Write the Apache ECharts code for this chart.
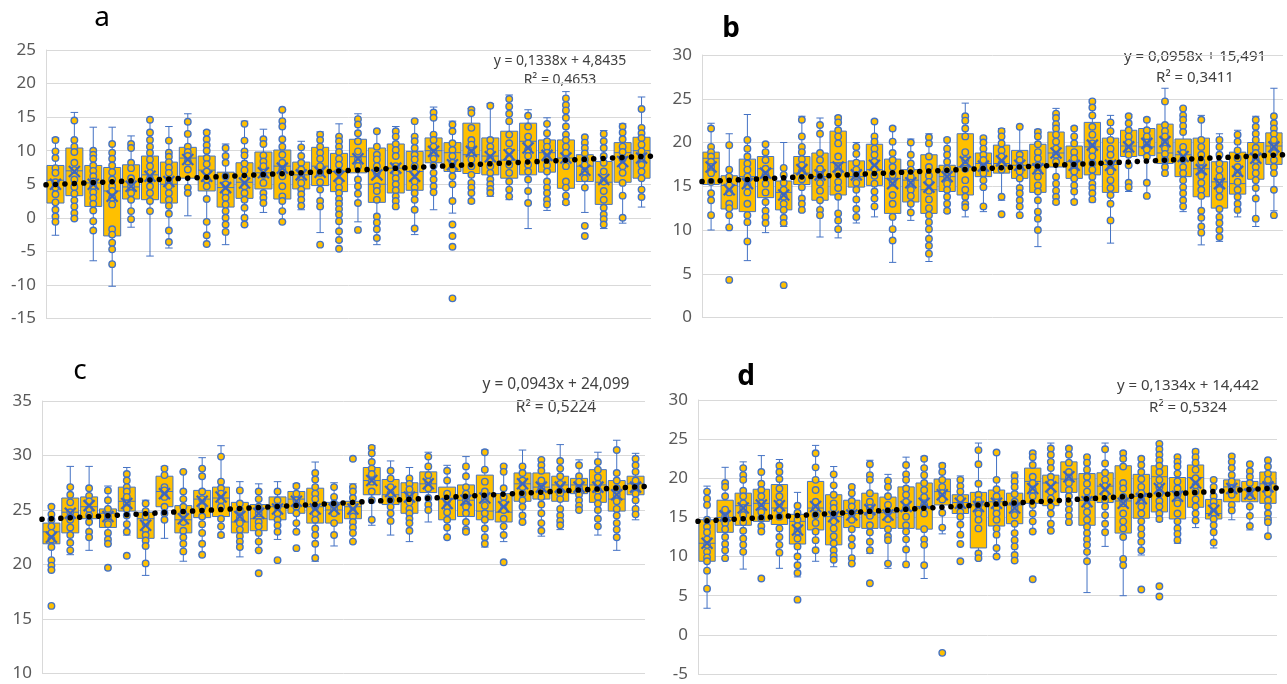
<!DOCTYPE html>
<html><head><meta charset="utf-8">
<script src="https://cdn.jsdelivr.net/npm/echarts@6/dist/echarts.min.js"></script>
<style>html,body{margin:0;padding:0;background:#fff}#c{width:1287px;height:684px}</style>
</head><body><div id="c"></div>
<script>
const categories = [1,2,3,4,5,6,7,8,9,10,11,12,13,14,15,16,17,18,19,20,21,22,23,24,25,26,27,28,29,30,31,32];

// ---- panel a ----
const yTicksA = [-15,-10,-5,0,5,10,15,20,25];
const boxesA = [[-2.6,2.2,5.6,7.8,11.9],[-0.2,3.3,7.0,10.4,15.7],[-6.4,1.7,5.2,7.8,13.5],[-10.2,-2.7,4.0,7.5,13.5],[-1.4,2.8,4.6,7.9,12.2],[-5.7,2.7,6.4,9.2,14.7],[-4.5,2.2,5.0,8.3,13.6],[0.3,5.9,8.9,10.5,15.5],[-4.0,4.0,7.1,9.2,13.0],[-4.0,1.6,4.5,6.8,11.0],[-1.1,2.9,5.3,8.2,14.4],[0.8,4.3,6.7,9.8,13.2],[-0.6,2.8,7.7,10.1,16.1],[1.2,4.3,6.4,8.3,11.4],[-2.2,4.8,7.7,10.5,12.8],[-3.5,3.9,6.9,9.6,14.0],[-0.6,6.7,9.1,11.7,15.5],[-4.0,2.3,5.0,10.4,13.0],[1.5,3.7,7.4,11.0,13.6],[-2.5,4.1,6.9,9.9,14.6],[1.2,8.2,10.0,11.9,16.5],[0.7,6.9,9.7,11.2,14.4],[2.2,6.6,9.4,14.1,16.3],[3.2,6.4,9.2,11.9,17.0],[2.7,5.9,8.6,12.9,18.3],[-1.6,6.4,11.4,14.1,16.1],[1.1,6.8,9.7,11.6,14.9],[2.0,4.4,8.9,11.6,18.8],[0.8,5.4,7.7,9.4,12.1],[-1.6,2.0,5.3,8.4,13.0],[-0.8,5.3,9.7,11.2,14.0],[1.6,5.9,10.0,12.0,18.0]];
const meansA = [5.0,6.9,5.0,3.2,4.7,6.2,5.4,8.7,6.2,4.5,5.2,6.7,7.4,6.4,6.8,6.2,8.8,6.4,7.4,6.2,9.9,7.9,9.9,9.1,9.4,10.4,9.3,8.9,7.1,5.7,8.4,8.9];
const pointsA = [
[11.6,9.9,8.9,7.4,6.7,5.3,4.5,3.5,2.3,1.2,0.2,-0.6],
[14.5,11.6,10.6,9.8,8.2,7.1,5.7,4.6,3.6,2.6,1.7,0.7,-0.1],
[10.0,9.4,8.8,7.8,7.0,6.2,5.4,4.7,3.8,3.0,2.1,1.1,-0.5,-1.9],
[11.0,9.7,8.8,7.8,6.8,5.7,4.7,4.0,3.0,2.0,-1.7,-2.5,-3.7,-4.7,-6.9],
[11.0,10.4,8.2,7.4,5.9,4.7,3.7,2.7,1.0,-0.2],
[14.6,12.7,11.6,10.6,9.7,8.7,7.7,6.7,5.8,4.7,3.7,2.5,1.0],
[11.5,9.7,9.1,8.3,7.5,6.7,5.4,4.7,3.7,2.7,1.8,0.6,-1.9,-3.6],
[14.3,12.5,10.6,9.8,9.2,8.4,7.2,4.5,3.7],
[12.7,11.7,10.8,10.0,8.9,8.0,6.9,5.7,4.7,2.8,-0.6,-2.6,-3.9],
[10.4,9.2,8.2,6.2,5.0,3.8,3.0,2.0,1.0,0.0,-1.0,-2.1],
[14.0,11.5,9.9,9.3,8.1,7.1,5.9,4.7,3.7,2.7,1.5,0.0,-1.0],
[11.7,11.0,9.3,8.4,7.7,6.4,5.2,3.7,3.0,2.2],
[16.1,14.4,13.6,11.7,10.6,9.4,8.2,7.2,6.2,4.7,3.2,2.5,1.0,-0.6],
[10.5,9.2,8.2,7.2,6.2,5.2,4.2,3.5,2.7,1.8],
[12.4,11.6,10.6,9.7,8.8,7.7,6.7,5.3,4.2,2.5,1.7,-4.0],
[12.1,11.4,10.6,9.8,8.8,7.9,6.9,5.4,4.5,3.7,2.8,2.1,1.3,0.5,-0.5,-2.0,-3.3,-4.6],
[14.7,13.9,12.6,11.4,9.9,8.7,7.7,5.7,4.7,3.6,2.2,-1.8],
[12.9,10.6,9.4,8.7,7.7,6.7,4.7,4.0,2.7,0.2,-0.7,-1.7,-3.0],
[12.9,12.1,11.0,10.1,9.2,7.7,6.7,5.9,5.0,4.1,3.2,2.5,1.7],
[14.4,12.1,11.4,10.4,9.4,8.7,7.7,6.7,5.4,4.5,3.7,2.7,1.2,-1.6],
[15.7,14.9,12.4,11.6,10.6,9.7,8.8,7.8,6.7,5.7,4.7,3.8],
[13.9,12.9,11.1,10.1,9.2,8.2,7.2,6.2,5.0,2.5,-1.0,-2.7,-4.3,-12.0],
[16.1,15.6,13.4,11.6,10.9,9.7,8.7,7.7,6.4,5.2,4.5,3.7,2.5],
[16.7,11.6,10.6,9.8,8.8,7.7,6.7,5.7,5.0,4.3,3.7],
[17.7,16.6,15.5,14.4,12.4,11.1,9.9,8.9,7.9,6.7,5.4,4.2,3.2],
[15.2,13.6,12.1,11.1,10.1,9.2,7.9,6.9,5.7,4.0,2.2],
[14.0,12.6,11.4,10.6,9.7,8.8,7.8,6.9,5.4,4.5,3.7,2.7,2.0],
[17.8,16.8,16.0,14.9,13.6,12.4,11.6,10.6,9.7,8.8,7.7,5.4,4.5,3.3,2.3],
[12.0,11.2,10.4,9.6,8.7,7.9,6.9,5.9,4.5,-1.2,-2.7],
[12.5,11.4,10.4,9.2,8.2,6.9,5.4,4.0,2.7,1.5,0.5,-0.2,-1.0],
[13.6,12.7,11.7,10.6,9.8,8.8,7.7,6.7,5.2,3.3,0.0],
[16.2,13.4,12.6,11.9,10.9,9.9,8.9,7.9,6.9,5.9,4.2,3.1]];
const trendA = [[0.5,4.91],[32.5,9.19]];

// ---- panel b ----
const yTicksB = [0,5,10,15,20,25,30];
const boxesB = [[10.0,15.2,18.2,18.9,22.2],[10.3,12.4,15.1,16.2,21.0],[6.5,12.1,16.1,18.1,23.2],[9.7,13.7,17.0,18.4,20.0],[10.4,12.3,14.3,15.6,20.0],[12.1,15.2,16.5,18.4,23.0],[9.2,13.4,16.1,18.8,22.8],[9.1,14.0,17.7,21.3,23.0],[10.8,14.9,16.1,17.9,20.0],[11.5,15.1,16.9,19.8,22.6],[6.3,11.9,15.9,18.1,21.8],[11.1,13.2,15.7,16.9,20.4],[6.4,11.9,14.6,18.6,21.0],[12.0,14.4,16.1,17.4,20.5],[11.5,14.0,17.2,21.0,24.5],[12.1,16.1,17.6,18.8,20.7],[13.4,16.5,17.6,19.7,21.6],[11.6,15.9,17.4,19.1,21.9],[8.1,14.3,17.4,19.8,21.5],[13.0,17.2,18.8,21.2,23.9],[13.4,15.9,17.8,19.6,21.8],[13.2,16.3,19.5,22.3,24.9],[8.5,14.3,17.5,20.5,23.1],[14.4,18.4,19.6,21.4,23.2],[13.8,18.5,19.5,21.6,22.8],[16.3,17.6,18.8,22.1,26.2],[12.1,16.1,18.6,20.4,24.0],[8.3,13.8,17.0,20.5,23.1],[8.7,12.5,15.5,17.8,21.0],[11.5,14.1,15.3,18.9,21.4],[10.4,15.8,18.6,20.0,23.0],[12.2,17.5,19.6,21.1,26.2]];
const meansB = [17.2,14.6,15.3,16.5,14.0,16.9,16.3,17.2,16.3,17.4,15.3,15.4,14.9,16.1,17.8,17.3,17.9,17.4,17.0,18.8,17.4,19.7,17.4,19.5,19.9,20.1,18.4,16.9,15.3,16.7,18.2,19.5];
const pointsB = [
[21.6,19.5,18.9,18.4,17.8,17.2,16.5,15.5,14.2,13.4,11.7],
[19.7,16.9,16.1,15.1,14.3,13.0,12.5,11.7,10.3,4.3],
[20.3,19.3,18.4,17.6,16.9,16.1,15.1,14.3,13.0,11.7,10.9,8.7],
[19.8,18.9,18.0,17.0,16.3,15.3,14.3,13.2,12.2,11.5,10.8],
[17.1,16.3,15.4,14.6,13.8,13.0,12.3,11.4,10.8,3.7],
[22.6,20.7,19.5,18.9,18.1,17.4,16.7,15.8,14.9,13.6,13.0,12.3],
[22.0,21.0,18.8,18.0,17.0,16.3,15.4,14.5,13.4,12.3,11.7],
[22.8,22.3,21.4,20.7,19.9,18.4,17.2,16.5,15.5,14.8,13.8,11.9,11.1,10.1],
[19.5,18.7,17.7,16.9,16.3,15.4,14.6,13.5,12.4,11.5],
[22.4,20.7,20.1,19.3,18.6,17.8,17.0,16.2,15.3,14.4,13.6,12.7],
[21.6,20.1,18.8,18.0,17.2,16.3,15.4,14.0,13.0,11.5,10.1,8.8],
[20.0,18.6,17.6,16.9,16.1,15.4,14.6,13.9,13.0,12.0],
[20.6,19.9,18.4,17.2,16.2,15.5,14.5,13.5,12.5,11.7,10.9,10.1,9.0,8.2,7.3],
[20.3,19.3,18.6,17.8,17.0,16.1,15.3,14.6,13.8,13.0,12.2],
[23.0,22.5,21.6,20.7,18.9,18.0,17.0,15.7,14.6,13.8,13.0,12.6],
[20.5,20.0,19.3,18.6,18.0,17.2,16.5,15.7,14.9,12.7],
[21.3,20.7,19.9,19.1,18.4,17.6,16.9,13.8,11.8],
[21.8,18.6,18.0,17.3,16.7,15.9,14.8,14.2,13.4,12.7,11.7],
[21.2,20.7,19.8,18.9,18.2,17.4,16.7,16.1,15.1,14.4,13.4,12.1,11.3,10.0],
[23.3,22.8,22.1,21.6,20.9,20.1,19.3,18.6,17.8,16.1,15.3,14.5,13.8,13.2],
[21.6,20.7,19.9,18.9,18.2,17.4,16.7,15.9,15.1,14.4,13.2],
[24.7,24.0,23.1,21.8,20.9,19.9,19.1,18.4,17.6,16.9,16.1,15.3,14.8,14.2,13.5],
[22.3,21.3,20.3,19.3,18.6,17.6,16.7,15.7,14.8,14.0,13.0,11.1],
[23.0,22.2,21.4,20.7,20.0,19.3,18.6,17.4,15.4,14.9],
[22.6,21.4,20.7,20.0,19.2,18.4,15.4,13.9],
[24.7,22.0,21.3,20.7,20.0,19.3,18.7,18.0,17.2,16.5],
[23.9,23.1,22.6,21.9,21.2,19.5,18.8,18.1,17.2,16.5,15.7,14.9,14.2,13.4,12.7],
[22.6,20.3,19.5,18.6,17.8,17.0,16.2,15.4,14.6,13.9,12.2,11.4,10.4,9.7],
[20.3,19.5,18.6,17.6,16.9,16.1,15.4,14.6,13.8,12.4,11.5,10.8,10.0,9.2],
[20.9,20.1,19.1,18.2,17.2,16.5,15.5,14.6,13.8,13.0,12.3],
[22.6,21.8,21.0,20.3,19.4,18.8,18.0,17.2,16.5,15.7,14.8,13.6,11.3],
[23.0,22.2,21.6,21.0,20.3,19.5,18.8,18.0,17.2,16.5,14.6,11.7]];
const trendB = [[0.5,15.54],[32.5,18.60]];

// ---- panel c ----
const yTicksC = [10,15,20,25,30,35];
const boxesC = [[19.5,21.9,23.0,23.8,25.4],[20.9,22.9,24.8,26.1,29.0],[21.3,24.2,25.3,26.2,29.0],[21.9,23.4,24.7,25.1,27.2],[22.7,24.9,25.8,27.1,28.9],[19.0,22.4,24.2,24.8,25.9],[22.4,25.3,26.7,28.1,29.0],[20.3,22.9,24.1,25.4,28.5],[20.9,24.3,26.0,26.8,29.8],[22.5,24.4,26.1,27.1,30.9],[20.7,22.9,23.9,25.7,27.6],[21.3,23.1,24.2,25.5,27.4],[22.3,24.1,25.3,26.2,27.6],[23.0,24.7,26.0,26.7,27.4],[20.3,23.8,25.3,27.0,29.4],[21.7,23.8,25.0,25.7,27.5],[22.1,24.2,25.3,25.8,27.4],[23.6,26.4,27.7,28.9,30.9],[22.7,25.5,26.4,27.8,29.5],[22.1,24.7,26.6,27.5,28.9],[23.9,26.6,27.4,28.5,30.3],[22.5,24.1,26.0,27.1,29.1],[22.9,24.4,25.9,27.3,29.9],[21.6,24.1,24.9,28.2,30.5],[22.1,23.9,24.8,26.5,29.1],[23.8,25.8,27.4,28.4,30.5],[22.6,26.0,27.1,28.4,29.7],[23.2,25.8,27.3,28.1,31.0],[25.0,26.5,27.3,27.9,29.6],[22.7,25.7,27.3,28.7,30.3],[21.3,24.9,26.0,27.7,31.4],[24.1,26.4,27.4,28.1,30.2]];
const meansC = [22.5,24.7,25.4,24.4,25.6,23.6,26.5,24.2,25.8,26.2,24.4,24.7,25.1,25.8,25.1,25.1,25.1,27.7,26.7,26.2,27.4,25.6,25.9,26.1,25.3,27.4,27.1,27.1,27.1,27.1,26.4,27.1];
const pointsC = [
[25.3,24.6,24.1,23.5,22.9,22.3,21.6,20.4,19.9,19.5,16.2],
[27.1,26.4,25.7,24.8,24.1,23.4,22.7,22.0,21.3],
[27.0,26.3,25.8,25.1,24.5,23.9,23.0,22.5],
[26.8,25.9,25.1,24.4,23.7,22.9,22.3,21.9,19.7],
[28.3,27.7,27.1,26.7,26.2,25.6,25.1,24.5,23.7,23.0,20.8],
[25.6,24.9,24.4,23.8,23.2,22.7,22.2,21.7,20.1],
[28.8,28.2,27.1,26.8,26.2,25.3,24.7,24.1],
[28.5,26.7,26.0,25.3,24.7,23.9,23.1,22.5,21.9,21.2],
[28.8,28.1,26.7,26.0,25.3,24.4,23.7,22.9,21.9,20.9],
[29.9,27.6,27.0,26.5,25.9,25.3,24.2,23.5,22.7],
[26.8,25.6,25.0,24.3,23.8,23.2,22.6,22.1,21.6],
[26.7,26.0,25.3,24.7,23.9,23.5,22.9,22.1,21.3,19.2],
[26.7,25.9,25.3,24.7,24.1,23.6,23.0,20.4],
[27.2,26.5,25.9,25.3,24.7,23.8,23.0,21.5],
[28.4,27.8,27.1,26.5,26.0,25.3,24.7,24.1,23.3,22.7,21.9,20.6],
[27.1,26.2,25.6,25.1,24.7,23.8,22.7],
[29.7,27.1,26.7,26.1,25.4,24.8,24.4,23.9,23.4,22.9,22.1],
[30.7,30.2,29.4,28.8,28.3,27.6,26.7,25.9,24.1],
[28.6,27.9,27.1,26.5,25.9,25.3,24.7,24.0],
[27.9,27.4,26.9,26.3,25.7,25.1,24.7,24.2,23.8,23.1],
[29.9,29.0,28.2,27.6,27.0,26.1,25.5,25.0],
[28.6,27.7,26.5,25.9,25.3,24.8,24.1,23.4,22.5],
[29.0,28.1,27.1,26.5,25.9,25.3,24.7,23.9,23.2,23.0],
[30.3,28.7,27.6,26.7,26.1,25.4,24.7,24.1,23.3,22.5,21.9],
[29.0,28.5,27.0,26.2,25.6,25.0,24.2,23.5,22.7,20.2],
[29.0,28.4,27.7,27.1,26.5,25.9,25.3,24.5,23.9],
[29.6,29.1,28.6,27.7,27.0,26.2,25.5,24.7,23.8,23.1],
[29.5,28.8,28.1,27.4,26.5,26.0,25.1,24.5,24.0,23.6],
[29.1,28.1,27.6,27.0,26.4,25.9,25.4,25.0],
[29.4,28.7,28.0,27.4,26.8,26.2,25.6,25.0,24.2,23.5],
[30.5,28.4,27.7,27.0,26.4,25.8,25.1,24.5,23.8,23.2,22.5],
[29.7,29.1,28.5,27.7,27.1,26.5,25.9,25.1,24.6]];
const trendC = [[0.5,24.15],[32.5,27.16]];

// ---- panel d ----
const yTicksD = [-5,0,5,10,15,20,25,30];
const boxesD = [[3.4,9.4,11.7,14.7,19.0],[9.7,13.1,15.0,17.2,21.4],[8.4,14.0,16.5,18.1,22.1],[13.5,14.5,16.8,18.6,22.9],[8.5,14.1,16.2,19.2,22.4],[7.4,11.6,14.5,15.4,18.2],[9.4,13.4,16.2,19.6,24.2],[8.7,11.5,15.1,17.9,21.5],[9.1,13.7,15.5,17.2,19.1],[10.4,13.6,15.6,18.1,22.3],[8.5,13.6,15.6,17.6,20.5],[9.0,13.6,15.9,18.9,22.7],[7.2,13.5,16.4,19.4,22.8],[12.9,16.6,18.3,19.9,21.9],[12.6,15.5,16.9,17.9,20.3],[9.6,11.1,16.6,18.2,24.5],[9.9,13.9,17.0,18.5,23.4],[9.4,14.2,16.6,18.1,20.8],[13.2,16.8,19.6,21.3,23.4],[13.2,16.5,19.4,20.4,24.5],[14.3,18.2,19.9,22.1,24.0],[5.4,14.0,17.2,20.6,22.8],[11.3,16.9,19.0,20.7,24.5],[5.0,13.0,17.1,21.6,23.4],[10.2,14.9,17.7,20.5,22.7],[14.5,15.7,20.2,21.6,24.5],[11.7,14.8,18.3,20.1,22.8],[13.7,16.3,20.1,21.7,23.7],[11.1,14.8,15.5,17.3,20.0],[14.7,17.0,18.9,19.8,23.0],[13.4,17.0,18.5,19.6,21.9],[12.5,16.8,19.3,20.8,22.4]];
const meansD = [11.7,15.2,16.2,16.6,16.5,13.4,16.4,15.1,15.3,16.0,15.3,16.4,16.8,17.9,16.8,16.4,16.8,16.2,18.7,18.9,20.2,17.0,18.6,16.8,17.4,18.7,17.7,19.4,15.9,18.7,18.0,18.9];
const pointsD = [
[18.3,17.4,16.6,14.7,13.8,13.1,12.2,11.5,10.6,9.9,9.4,8.2,5.9],
[19.4,18.9,17.7,16.0,15.1,14.3,13.5,12.5,11.6,10.8,9.8],
[21.3,20.4,19.8,18.4,17.7,16.8,16.2,15.3,14.4,13.3,12.3,11.5,10.6],
[20.8,19.3,18.5,17.7,16.8,15.7,14.9,13.9,13.2,7.2],
[21.6,20.8,19.9,18.7,17.7,16.8,16.0,15.1,13.6,12.5,11.5,10.5],
[16.5,15.6,14.7,13.9,13.2,12.3,11.3,10.0,8.9,7.9,4.5],
[23.2,21.4,19.8,18.5,17.0,16.2,15.3,14.3,13.2,12.1,10.8],
[20.5,19.1,17.9,16.8,16.2,15.3,14.5,13.6,12.6,11.7,10.8,10.1,9.6],
[18.9,18.1,17.1,16.4,15.5,14.7,13.5,12.3,11.4,9.8,9.1],
[21.8,20.4,19.8,18.1,17.0,16.2,15.2,14.0,13.1,11.9,10.8,6.6],
[19.7,18.9,17.7,16.6,15.7,14.8,13.5,12.6,12.1,9.1],
[21.7,20.5,19.8,18.7,17.9,17.0,16.2,15.1,14.0,13.2,12.2,10.9,9.0],
[22.5,21.3,20.4,19.4,18.5,17.6,16.6,15.5,13.5,12.2,11.5,8.9],
[21.6,20.8,19.8,18.9,18.1,17.3,15.6,13.7,-2.3],
[19.8,19.0,18.3,17.4,16.5,15.7,15.1,14.1,12.8,11.6,9.4],
[23.6,21.8,19.3,17.9,17.2,16.6,15.5,14.7,13.6,10.4,9.8],
[23.3,19.8,18.6,17.7,16.9,16.2,15.5,14.7,13.6,12.8,11.1,10.0],
[20.3,19.6,18.9,18.0,17.0,16.2,15.3,14.2,13.0,12.1,11.3,10.2,9.5],
[23.2,22.7,21.7,20.2,19.4,18.5,17.7,16.6,15.5,14.5,13.2,7.1],
[23.8,23.0,22.1,21.3,20.2,19.4,18.3,17.4,16.4,15.5,14.2,13.3],
[23.8,23.0,22.0,20.8,20.1,19.4,18.5,17.7,16.8,16.0,15.2,14.4],
[22.7,22.0,21.1,20.2,19.3,18.3,17.4,16.6,15.7,14.7,13.8,13.0,12.2,11.5,10.6,9.4],
[23.7,21.9,20.7,19.8,19.0,18.0,17.2,16.4,15.3,14.2,13.1],
[23.2,22.5,21.5,19.4,18.7,17.6,16.8,15.5,14.5,13.6,12.5,9.7,8.9],
[22.5,21.7,20.8,19.9,18.9,18.1,17.2,16.4,15.5,14.5,13.6,12.8,11.9,10.8,5.8],
[24.4,23.7,23.0,22.3,21.6,20.8,19.8,18.9,18.0,17.1,16.4,15.5,14.8,6.2,4.9],
[22.7,22.1,21.5,20.6,19.6,18.7,17.9,16.8,15.5,14.5,13.6,12.9,12.1],
[23.4,22.7,22.0,21.1,20.0,19.1,18.3,17.3,16.4,15.5,14.6],
[19.8,18.9,17.7,17.0,16.4,15.6,14.8,14.0,13.1,11.8],
[22.8,22.1,21.3,20.4,19.6,18.7,17.9,16.6,15.9],
[21.8,20.9,20.2,19.4,18.5,17.7,16.4,15.2,13.9],
[22.3,21.5,20.6,19.8,18.9,18.1,17.2,16.4,15.5,14.8,14.4,12.6]];
const trendD = [[0.5,14.51],[32.5,18.78]];

const equations = [
  ['y = 0,1338x + 4,8435', 'R² = 0,4653'],
  ['y = 0,0958x + 15,491', 'R² = 0,3411'],
  ['y = 0,0943x + 24,099', 'R² = 0,5224'],
  ['y = 0,1334x + 14,442', 'R² = 0,5324']
];
const panelLetters = ['a', 'b', 'c', 'd'];

const GOLD = '#FFC000', BLUE = '#4472C4', GRID = '#D9D9D9';

const layout = [
  {grid:{left:46, top:50, width:605, height:268.5}, letter:[102,18,'normal'], eq:[560,61,80,14]},
  {grid:{left:702, top:55, width:581, height:262.5}, letter:[731,29,'bold'], eq:[1195,57,78,15]},
  {grid:{left:42, top:401, width:603, height:272.5}, letter:[80,371,'normal'], eq:[556,385,408,15.5]},
  {grid:{left:698, top:400, width:579, height:274}, letter:[746,377,'bold'], eq:[1188,386,408,15]}
];
const panels = [
  {ticks:yTicksA, boxes:boxesA, means:meansA, points:pointsA, trend:trendA},
  {ticks:yTicksB, boxes:boxesB, means:meansB, points:pointsB, trend:trendB},
  {ticks:yTicksC, boxes:boxesC, means:meansC, points:pointsC, trend:trendC},
  {ticks:yTicksD, boxes:boxesD, means:meansD, points:pointsD, trend:trendD}
];

function boxRender(params, api) {
  const x = api.value(0);
  const lo = api.coord([x, api.value(1)]);
  const q1 = api.coord([x, api.value(2)]);
  const md = api.coord([x, api.value(3)]);
  const q3 = api.coord([x, api.value(4)]);
  const hi = api.coord([x, api.value(5)]);
  const bw = api.size([1, 0])[0];
  const h = bw * 0.45, c = bw * 0.2, cx = lo[0];
  const ls = {stroke: BLUE, lineWidth: 1};
  return {type: 'group', children: [
    {type: 'line', shape: {x1: cx, y1: q3[1], x2: cx, y2: hi[1]}, style: ls},
    {type: 'line', shape: {x1: cx, y1: q1[1], x2: cx, y2: lo[1]}, style: ls},
    {type: 'line', shape: {x1: cx - c, y1: hi[1], x2: cx + c, y2: hi[1]}, style: ls},
    {type: 'line', shape: {x1: cx - c, y1: lo[1], x2: cx + c, y2: lo[1]}, style: ls},
    {type: 'rect', shape: {x: cx - h, y: q3[1], width: 2 * h, height: q1[1] - q3[1]}, style: {fill: GOLD, stroke: BLUE, lineWidth: 1}},
    {type: 'line', shape: {x1: cx - h, y1: md[1], x2: cx + h, y2: md[1]}, style: ls}
  ]};
}
function meanRender(params, api) {
  const p = api.coord([api.value(0), api.value(1)]);
  const s = 5.5;
  const st = {stroke: '#3F66BC', lineWidth: 2.2};
  return {type: 'group', children: [
    {type: 'line', shape: {x1: p[0] - s, y1: p[1] - s, x2: p[0] + s, y2: p[1] + s}, style: st},
    {type: 'line', shape: {x1: p[0] - s, y1: p[1] + s, x2: p[0] + s, y2: p[1] - s}, style: st}
  ]};
}

const grids = [], xAxes = [], yAxes = [], series = [], graphics = [];
panels.forEach((p, i) => {
  const L = layout[i];
  grids.push(Object.assign({}, L.grid));
  xAxes.push({type: 'value', gridIndex: i, min: 0.5, max: categories.length + 0.5, show: false});
  yAxes.push({
    type: 'value', gridIndex: i, min: p.ticks[0], max: p.ticks[p.ticks.length - 1], interval: 5,
    axisLine: {show: true, lineStyle: {color: GRID, width: 1}},
    axisTick: {show: false},
    splitLine: {show: true, lineStyle: {color: GRID, width: 1}},
    axisLabel: {fontSize: 17, color: '#595959', fontFamily: 'Noto Sans', margin: 10}
  });
  series.push({
    type: 'custom', xAxisIndex: i, yAxisIndex: i, z: 2, silent: true,
    renderItem: boxRender,
    encode: {x: 0, y: [1, 2, 3, 4, 5]},
    data: p.boxes.map((b, j) => [categories[j], b[0], b[1], b[2], b[3], b[4]])
  });
  const pts = [];
  p.points.forEach((arr, j) => arr.forEach(v => pts.push([categories[j], v])));
  series.push({
    type: 'scatter', xAxisIndex: i, yAxisIndex: i, z: 3, silent: true,
    symbol: 'circle', symbolSize: 6.5,
    itemStyle: {color: GOLD, borderColor: BLUE, borderWidth: 1.4, opacity: 1},
    data: pts
  });
  series.push({
    type: 'custom', xAxisIndex: i, yAxisIndex: i, z: 4, silent: true,
    renderItem: meanRender,
    encode: {x: 0, y: 1},
    data: p.means.map((m, j) => [categories[j], m])
  });
  const gap = L.grid.width / categories.length / 2;
  series.push({
    type: 'line', xAxisIndex: i, yAxisIndex: i, z: 5, silent: true,
    symbol: 'none', showSymbol: false,
    lineStyle: {color: '#000', width: 5.5, type: [0.1, gap - 0.1], cap: 'round'},
    data: p.trend
  });
  graphics.push({type: 'text', x: L.letter[0], y: L.letter[1], style: {
    text: panelLetters[i], fill: '#000', font: L.letter[2] + ' 28px "Noto Sans"',
    textAlign: 'center', textVerticalAlign: 'middle', align: 'center', verticalAlign: 'middle'}});
  graphics.push({type: 'text', x: L.eq[0], y: L.eq[1], style: {
    text: equations[i][0], fill: '#404040', font: L.eq[3] + 'px "Noto Sans"',
    textAlign: 'center', textVerticalAlign: 'middle', align: 'center', verticalAlign: 'middle'}});
  graphics.push({type: 'text', x: L.eq[0], y: L.eq[2], style: {
    text: equations[i][1], fill: '#404040', font: L.eq[3] + 'px "Noto Sans"',
    textAlign: 'center', textVerticalAlign: 'middle', align: 'center', verticalAlign: 'middle'}});
});

const chart = echarts.init(document.getElementById('c'), null, {renderer: 'canvas'});
chart.setOption({
  animation: false,
  backgroundColor: '#fff',
  grid: grids, xAxis: xAxes, yAxis: yAxes, series: series, graphic: graphics
});
</script></body></html>
